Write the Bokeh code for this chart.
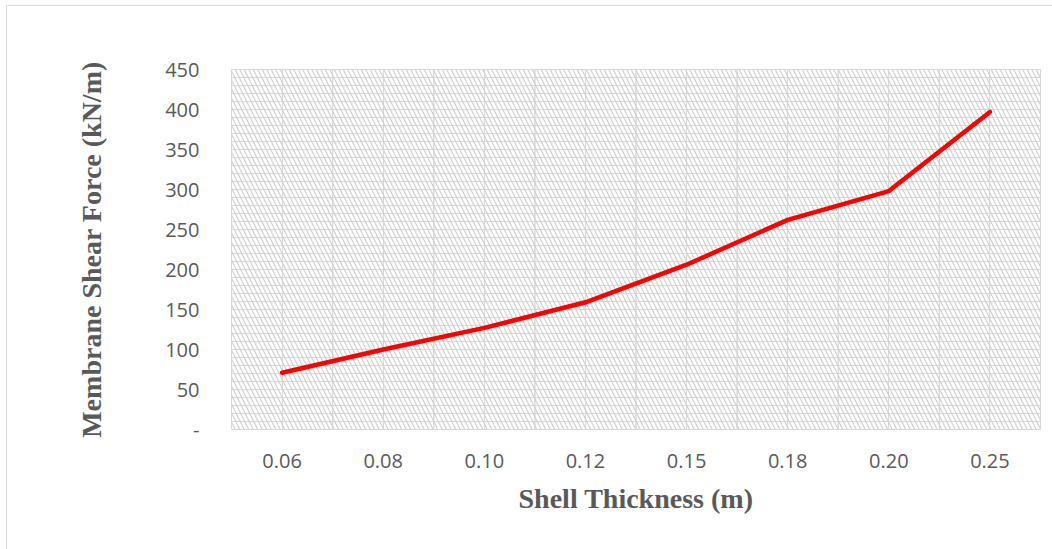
from bokeh.plotting import figure
from bokeh.models import BoxAnnotation, Range1d, FactorRange, FixedTicker, ColumnDataSource
from bokeh.transform import dodge
from bokeh.embed import file_html
from bokeh.resources import INLINE

# Shell thickness (m) vs membrane shear force (kN/m)
thickness = ["0.06", "0.08", "0.10", "0.12", "0.15", "0.18", "0.20", "0.25"]
shear_force = [71, 100, 127, 159, 206, 262, 298, 397]
y_ticks = [0, 50, 100, 150, 200, 250, 300, 350, 400, 450]

GRID = "#d9d9d9"
TEXT = "#595959"

p = figure(
    x_range=FactorRange(*thickness, range_padding=0),
    y_range=Range1d(0, 450),
    frame_width=809, frame_height=360,
    min_border_left=224, min_border_top=63, min_border_right=13, min_border_bottom=121,
    output_backend="svg", toolbar_location=None,
    background_fill_color="white", border_fill_color="white",
)
p.styles = {"border-top": "1px solid #d9d9d9", "border-left": "1px solid #d9d9d9",
            "margin-left": "6px", "margin-top": "5px"}

p.outline_line_color = GRID
p.outline_line_width = 1

# diagonal pattern fill of the plot area
p.add_layout(BoxAnnotation(fill_alpha=0, line_alpha=0, hatch_pattern="\\", hatch_scale=9,
                           hatch_color="#d0d0d0", hatch_weight=1.2, level="underlay"))

# gridlines
p.yaxis.ticker = FixedTicker(ticks=y_ticks, minor_ticks=list(range(0, 451, 10)))
p.ygrid.grid_line_color = GRID
p.ygrid.minor_grid_line_color = GRID
p.xgrid.grid_line_color = GRID

# category boundary lines
bounds = ColumnDataSource(dict(x=thickness, y0=[0] * len(thickness), y1=[450] * len(thickness)))
p.segment(x0=dodge("x", -0.5, range=p.x_range), x1=dodge("x", -0.5, range=p.x_range),
          y0="y0", y1="y1", source=bounds, line_color=GRID, line_width=1, level="underlay")
p.segment(x0=dodge("x", 0.5, range=p.x_range), x1=dodge("x", 0.5, range=p.x_range),
          y0="y0", y1="y1", source=bounds, line_color=GRID, line_width=1, level="underlay")

p.line(thickness, shear_force, line_color="#ff0000", line_width=4.5,
       line_join="round", line_cap="round")

for ax in (p.xaxis, p.yaxis):
    ax.axis_line_color = None
    ax.major_tick_line_color = None
    ax.minor_tick_line_color = None
    ax.major_label_text_font = "Open Sans"
    ax.major_label_text_font_size = "20px"
    ax.major_label_text_color = TEXT
    ax.axis_label_text_font = "Liberation Serif"
    ax.axis_label_text_font_style = "bold"
    ax.axis_label_text_font_size = "28px"
    ax.axis_label_text_color = TEXT

p.yaxis.major_label_overrides = {0: "-"}
p.yaxis.major_label_standoff = 26
p.xaxis.major_label_standoff = 18
p.yaxis.axis_label = "Membrane Shear Force (kN/m)"
p.xaxis.axis_label = "Shell Thickness (m)"
p.yaxis.axis_label_standoff = 55
p.xaxis.axis_label_standoff = 12

open("out.html", "w").write(file_html(p, INLINE))
